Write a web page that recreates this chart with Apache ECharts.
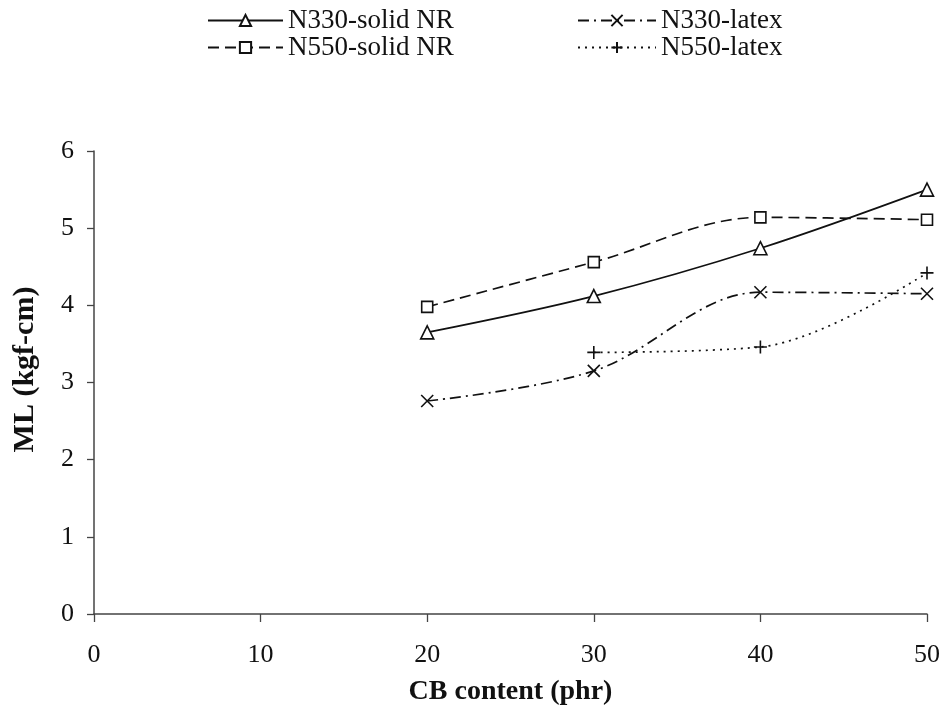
<!DOCTYPE html>
<html><head><meta charset="utf-8">
<script src="https://cdn.jsdelivr.net/npm/echarts@6/dist/echarts.min.js"></script>
<style>html,body{margin:0;padding:0;background:#fff}#c{width:949px;height:711px}</style>
</head><body><div id="c"></div>
<script>
var xValues = [20, 30, 40, 50];
var n330Solid = [3.65, 4.12, 4.74, 5.50];
var n550Solid = [3.98, 4.56, 5.14, 5.11];
var n330Latex = [2.76, 3.15, 4.17, 4.15];
var n550LatexX = [30, 40, 50];
var n550Latex = [3.39, 3.46, 4.42];
var names = ['N330-solid NR', 'N550-solid NR', 'N330-latex', 'N550-latex'];

function pairs(xs, ys){ return xs.map(function(x,i){ return [x, ys[i]]; }); }
var FONT = '"Liberation Serif", "Times New Roman", serif';
var xPath = 'path://M0,0L10,10M10,0L0,10';
var plusPath = 'path://M5,0L5,10M0,5L10,5';

function mk(name, data, symbol, size, dash){
  return {
    name: name, type: 'line', data: data, smooth: 0.35,
    symbol: symbol, symbolSize: size,
    lineStyle: {color: '#111', width: 1.7, type: dash},
    itemStyle: {color: '#fff', borderColor: '#111', borderWidth: 1.6},
    emphasis: {disabled: true}
  };
}
var legendText = {fontFamily: FONT, fontSize: 27, color: '#111', lineHeight: 27};
var chart = echarts.init(document.getElementById('c'), null, {renderer: 'canvas'});
chart.setOption({
  animation: false,
  backgroundColor: '#fff',
  textStyle: {fontFamily: FONT},
  legend: [
    {data: [names[0], names[1]], left: 202, top: 2, orient: 'vertical', itemGap: 0, itemWidth: 75, itemHeight: 14,
     textStyle: legendText},
    {data: [names[2], names[3]], left: 572, top: 2, orient: 'vertical', itemGap: 0, itemWidth: 78, itemHeight: 14,
     textStyle: legendText}
  ],
  grid: {left: 94, right: 22, top: 151, bottom: 97},
  xAxis: {
    type: 'value', min: 0, max: 50, interval: 10,
    name: 'CB content (phr)', nameLocation: 'middle', nameGap: 64,
    nameTextStyle: {fontFamily: FONT, fontSize: 28, fontWeight: 'bold', color: '#111'},
    axisLine: {lineStyle: {color: '#444', width: 1.5}},
    axisTick: {show: true, inside: false, length: 8, lineStyle: {color: '#444', width: 1.3}},
    axisLabel: {fontFamily: FONT, fontSize: 26, color: '#111', margin: 28},
    splitLine: {show: false}
  },
  yAxis: {
    type: 'value', min: 0, max: 6, interval: 1,
    name: 'ML (kgf-cm)', nameLocation: 'middle', nameGap: 54,
    nameTextStyle: {fontFamily: FONT, fontSize: 30, fontWeight: 'bold', color: '#111', padding: [0, 0, 0, 26]},
    axisLine: {show: true, lineStyle: {color: '#444', width: 1.5}},
    axisTick: {show: true, inside: false, length: 7, lineStyle: {color: '#444', width: 1.3}},
    axisLabel: {fontFamily: FONT, fontSize: 26, color: '#111', margin: 20},
    splitLine: {show: false}
  },
  series: [
    mk(names[0], pairs(xValues, n330Solid), 'triangle', 13, 'solid'),
    mk(names[1], pairs(xValues, n550Solid), 'rect', 11, [11, 6]),
    mk(names[2], pairs(xValues, n330Latex), xPath, 12, [11, 5, 2, 5]),
    mk(names[3], pairs(n550LatexX, n550Latex), plusPath, 13, [2, 5])
  ]
});
</script></body></html>
